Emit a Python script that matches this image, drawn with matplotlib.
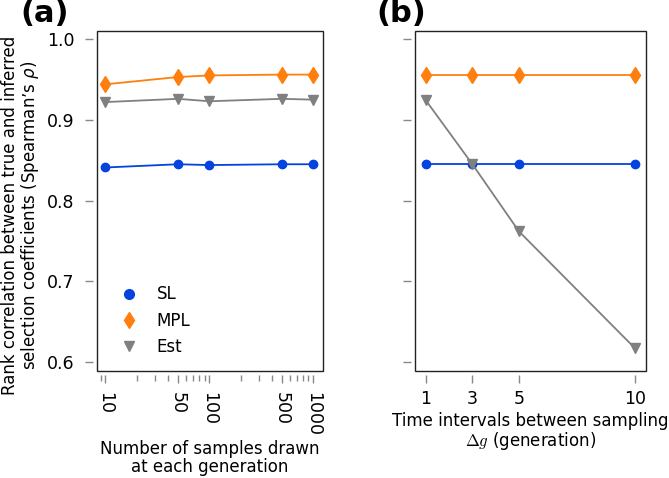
import numpy as np
import matplotlib
matplotlib.use('Agg')
import matplotlib.pyplot as plt
from matplotlib.patches import Rectangle
from matplotlib.lines import Line2D

# ---- data ----
n_samples = [10, 50, 100, 500, 1000]
sl_a = [0.841, 0.845, 0.844, 0.845, 0.845]
mpl_a = [0.944, 0.953, 0.955, 0.956, 0.956]
est_a = [0.922, 0.926, 0.923, 0.926, 0.925]

dg = [1, 3, 5, 10]
sl_b = [0.845, 0.845, 0.845, 0.845]
mpl_b = [0.956, 0.956, 0.956, 0.956]
est_b = [0.924, 0.845, 0.762, 0.617]

c_sl = '#0343df'
c_mpl = '#ff7f0e'
c_est = '#808080'

plt.rcParams['font.size'] = 12

fig = plt.figure(figsize=(6.69, 4.78), dpi=100)
W, H = 669, 478
axA = fig.add_axes([97/W, 1-371/H, 226/W, 340/H])
axB = fig.add_axes([415/W, 1-371/H, 231/W, 340/H])

def style(ax):
    for s in ax.spines.values():
        s.set_visible(False)
    ax.spines['left'].set_position(('outward', 3))
    ax.spines['bottom'].set_position(('outward', 3))
    ax.add_patch(Rectangle((0, 0), 1, 1, transform=ax.transAxes, fill=False,
                           ec='#222222', lw=1.0, clip_on=False, zorder=5))
    ax.tick_params(which='both', direction='out', color='#888888', length=6, width=1,
                   labelsize=12.5)
    ax.tick_params(which='minor', length=4)
    ax.tick_params(axis='y', pad=7)
    ax.set_ylim(0.589, 1.01)
    ax.set_yticks([0.6, 0.7, 0.8, 0.9, 1.0])

# ---- (a) ----
axA.plot(n_samples, sl_a, color=c_sl, marker='o', ms=6, lw=1.3)
axA.plot(n_samples, mpl_a, color=c_mpl, marker='d', ms=8, lw=1.3)
axA.plot(n_samples, est_a, color=c_est, marker='v', ms=7, lw=1.3)
axA.set_xscale('log')
axA.set_xlim(8.3, 1245)
style(axA)
axA.set_xticks(n_samples)
axA.set_xticklabels([str(n) for n in n_samples], rotation=-90)
axA.tick_params(axis='x', which='major', pad=6)
axA.set_yticklabels(['0.6', '0.7', '0.8', '0.9', '1.0'])
# y label placed by hand (two lines, tight spacing)
fig.text(21/W, 1-215/H,
         'Rank correlation between true and inferred\nselection coefficients (Spearman\u2019s $\\rho$)',
         rotation=90, ha='center', va='center', linespacing=1.0, multialignment='center')
axA.set_xlabel('Number of samples drawn\nat each generation', linespacing=1.0)
axA.xaxis.set_label_coords(0.5, (371-440)/340)
handles = [Line2D([], [], ls='none', color=c_sl, marker='o', ms=7),
           Line2D([], [], ls='none', color=c_mpl, marker='d', ms=8),
           Line2D([], [], ls='none', color=c_est, marker='v', ms=7)]
axA.legend(handles, ['SL', 'MPL', 'Est'], loc='lower left', frameon=False,
           bbox_to_anchor=(0.02, 0.0), handletextpad=0.9, labelspacing=0.5,
           handlelength=1.5)
fig.text(20/W, 1-14/H, '(a)', fontsize=22, fontweight='bold', va='center', ha='left')

# ---- (b) ----
axB.plot(dg, sl_b, color=c_sl, marker='o', ms=6, lw=1.3)
axB.plot(dg, mpl_b, color=c_mpl, marker='d', ms=8, lw=1.3)
axB.plot(dg, est_b, color=c_est, marker='v', ms=7, lw=1.3)
axB.set_xlim(0.53, 10.47)
style(axB)
axB.set_xticks(dg)
axB.tick_params(axis='x', which='major', pad=5)
axB.set_yticklabels([])
axB.set_xlabel('Time intervals between sampling\n$\\Delta g$ (generation)', math_fontfamily='cm',
               linespacing=1.0)
axB.xaxis.set_label_coords(0.5, (371-412)/340)
fig.text(376/W, 1-14/H, '(b)', fontsize=22, fontweight='bold', va='center', ha='left')

fig.savefig('out.png', dpi=100)
